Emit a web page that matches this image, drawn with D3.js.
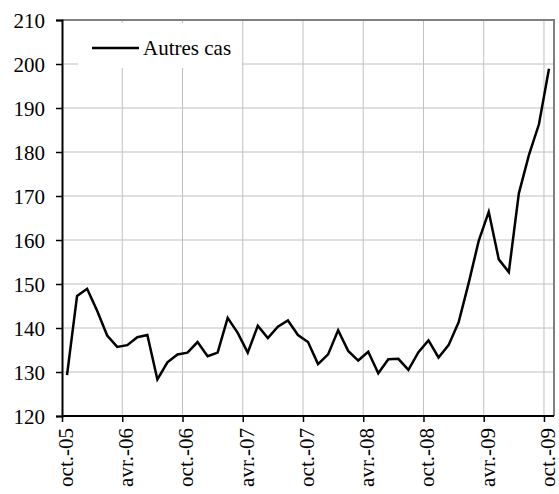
<!DOCTYPE html>
<html>
<head>
<meta charset="utf-8">
<script src="https://cdn.jsdelivr.net/npm/d3@7"></script>
<style>
  html, body { margin: 0; padding: 0; background: #fff; }
  svg { display: block; }
</style>
</head>
<body>
<svg id="chart" width="559" height="494"></svg>
<script>
const months = [
  "oct.-05","nov.-05","déc.-05",
  "janv.-06","févr.-06","mars-06","avr.-06","mai-06","juin-06","juil.-06","août-06","sept.-06","oct.-06","nov.-06","déc.-06",
  "janv.-07","févr.-07","mars-07","avr.-07","mai-07","juin-07","juil.-07","août-07","sept.-07","oct.-07","nov.-07","déc.-07",
  "janv.-08","févr.-08","mars-08","avr.-08","mai-08","juin-08","juil.-08","août-08","sept.-08","oct.-08","nov.-08","déc.-08",
  "janv.-09","févr.-09","mars-09","avr.-09","mai-09","juin-09","juil.-09","août-09","sept.-09","oct.-09"
];
const tickLabels = ["oct.-05","avr.-06","oct.-06","avr.-07","oct.-07","avr.-08","oct.-08","avr.-09","oct.-09"];
const seriesName = "Autres cas";
const autresCas = [
  129.3, 147.3, 148.9, 143.9, 138.3, 135.7, 136.1, 137.9, 138.4, 128.3, 132.2, 134.0,
  134.4, 136.8, 133.6, 134.4, 142.3, 138.9, 134.4, 140.5, 137.7, 140.3, 141.7, 138.4,
  136.8, 131.8, 134.0, 139.5, 134.8, 132.6, 134.6, 129.7, 132.9, 133.0, 130.5, 134.5,
  137.2, 133.3, 136.1, 141.3, 150.2, 159.8, 166.4, 155.6, 152.7, 170.6, 179.3, 186.3, 198.9
];
const yTicks = [120,130,140,150,160,170,180,190,200,210];

const FONT = "'Liberation Serif', 'Times New Roman', serif";
const FS = 21;

const svg = d3.select("#chart");
const L = 62, R = 554, T = 20, B = 416;

const x = d3.scaleBand().domain(months).range([L, R]).padding(0);
const y = d3.scaleLinear().domain([120, 210]).range([B, T]);
const cx = m => x(m) + x.bandwidth() / 2;

// gridlines
const grid = svg.append("g");
grid.selectAll("line.h").data(yTicks.slice(1, -1)).join("line")
  .attr("x1", L).attr("x2", R).attr("y1", d => y(d)).attr("y2", d => y(d))
  .attr("stroke", "#c0c0c0").attr("stroke-width", 1);
grid.selectAll("line.v").data(tickLabels.slice(1)).join("line")
  .attr("x1", d => x(d)).attr("x2", d => x(d)).attr("y1", T).attr("y2", B)
  .attr("stroke", "#c0c0c0").attr("stroke-width", 1);

// borders (top/right gray)
svg.append("line").attr("x1", L).attr("x2", R + 1).attr("y1", T).attr("y2", T)
  .attr("stroke", "#808080").attr("stroke-width", 2);
svg.append("line").attr("x1", R).attr("x2", R).attr("y1", T).attr("y2", B)
  .attr("stroke", "#808080").attr("stroke-width", 2);

// line
const line = d3.line().x((d, i) => cx(months[i])).y(d => y(d));
svg.append("path").datum(autresCas).attr("d", line)
  .attr("fill", "none").attr("stroke", "#000").attr("stroke-width", 2.5)
  .attr("stroke-linejoin", "miter");

// legend box
svg.append("rect").attr("x", 78).attr("y", 23).attr("width", 164).attr("height", 45).attr("fill", "#fff");
svg.append("line").attr("x1", 92).attr("x2", 139).attr("y1", 48).attr("y2", 48)
  .attr("stroke", "#000").attr("stroke-width", 2.5);
svg.append("text").attr("x", 143).attr("y", 55)
  .style("font-family", FONT).style("font-size", FS + "px").attr("fill", "#000").text(seriesName);

// y axis
const yAxis = d3.axisLeft(y).tickValues(yTicks).tickSize(6).tickPadding(11).tickFormat(d3.format("d"));
const gy = svg.append("g").attr("transform", `translate(${L},0)`).call(yAxis);
gy.select(".domain").attr("stroke", "#000").attr("stroke-width", 2);
gy.selectAll(".tick line").attr("stroke", "#000").attr("stroke-width", 1.5);
gy.selectAll(".tick text")
  .style("font-family", FONT).style("font-size", FS + "px").attr("fill", "#000").attr("dy", "0.35em");

// x axis
const tickScale = d3.scalePoint().domain(tickLabels).range([x(tickLabels[0]), x(tickLabels[tickLabels.length - 1])]);
const xAxis = d3.axisBottom(tickScale).tickSize(6).tickSizeOuter(0).tickPadding(8);
const gx = svg.append("g").attr("transform", `translate(0,${B})`).call(xAxis);
gx.select(".domain").attr("d", `M${L},0H${R}`).attr("stroke", "#000").attr("stroke-width", 2);
gx.selectAll(".tick line").attr("stroke", "#000").attr("stroke-width", 1.5);
gx.selectAll(".tick text")
  .style("font-family", FONT).style("font-size", FS + "px").attr("fill", "#000")
  .attr("transform", "rotate(-90)")
  .attr("text-anchor", "end")
  .attr("x", -12).attr("y", 0).attr("dy", "0.5em");
</script>
</body>
</html>
